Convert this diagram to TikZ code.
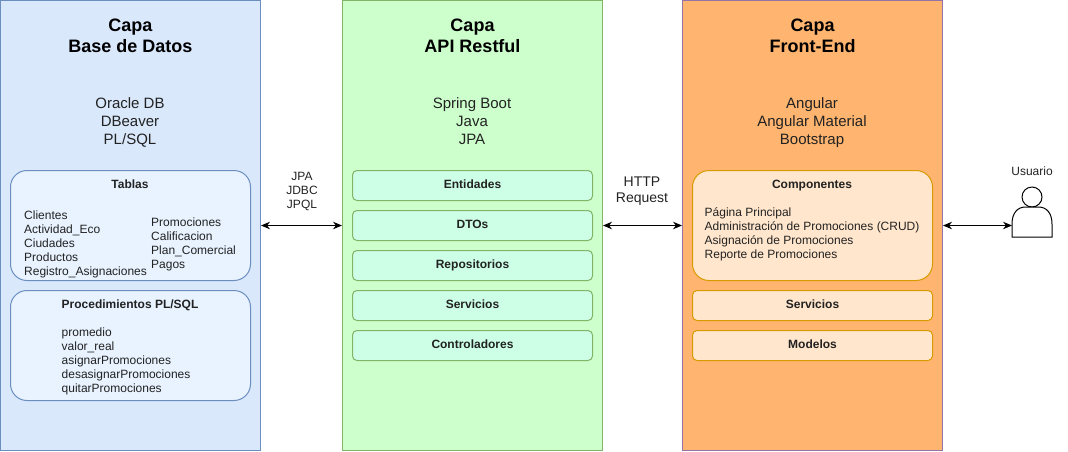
\documentclass[tikz,border=0pt]{standalone}
\usepackage{fontspec}
\setmainfont{Liberation Sans}
\usetikzlibrary{arrows.meta,calc}
\definecolor{blueF}{HTML}{DAE8FC}\definecolor{blueD}{HTML}{6C8EBF}
\definecolor{blueL}{HTML}{E8F3FF}
\definecolor{greenF}{HTML}{CCFFCC}\definecolor{greenD}{HTML}{82B366}
\definecolor{greenL}{HTML}{CCFFE6}
\definecolor{orangeF}{HTML}{FFB570}\definecolor{purpleD}{HTML}{9673A6}
\definecolor{orangeL}{HTML}{FFE6CC}\definecolor{orangeD}{HTML}{D79B00}
\definecolor{txt}{HTML}{222222}
\tikzset{
  panel/.style={draw,line width=1pt,minimum width=260pt,minimum height=450pt,inner sep=0pt,anchor=north west},
  inner/.style={draw,line width=1pt,minimum width=240pt,inner sep=0pt,anchor=north west,rounded corners=#1},
  tall/.style={inner=16.5pt,minimum height=110pt},
  short/.style={inner=4.5pt,minimum height=30pt},
  title/.style={font=\fontsize{18}{21}\selectfont\bfseries,align=center,text=black,inner sep=0pt},
  tech/.style={font=\fontsize{15}{18}\selectfont,align=center,text=txt,inner sep=0pt},
  small/.style={font=\fontsize{12}{14}\selectfont,align=left,text=txt,inner sep=0pt},
  smallc/.style={font=\fontsize{12}{14}\selectfont,align=center,text=txt,inner sep=0pt},
  head/.style={font=\fontsize{12}{14}\selectfont\bfseries,text=txt,inner sep=0pt,anchor=base},
  link/.style={line width=1pt,{Stealth[length=9pt,width=7.5pt]}-{Stealth[length=9pt,width=7.5pt]}},
}
\begin{document}
\begin{tikzpicture}[x=1pt,y=-1pt]
\useasboundingbox (0,0) rectangle (1068,451);
% panels
\node[panel,fill=blueF,draw=blueD] (db) at (0,0) {};
\node[panel,fill=greenF,draw=greenD] (api) at (342,0) {};
\node[panel,fill=orangeF,draw=purpleD] (front) at (682,0) {};
% titles
\node[title] (t1) at (130.5,35.5) {Capa\\Base de Datos};
\node[title] (t2) at (472.5,35.5) {Capa\\API Restful};
\node[title] (t3) at (812.5,35.5) {Capa\\Front-End};
\node[tech] (s1) at (130,122.5) {Oracle DB\\DBeaver\\PL/SQL};
\node[tech] (s2) at (472,121) {Spring Boot\\Java\\JPA};
\node[tech] (s3) at (812,122.5) {Angular\\Angular Material\\Bootstrap};
% database boxes
\node[tall,fill=blueL,draw=blueD] (tablas) at (10,170) {};
\node[head] (tablasH) at (130,188) {Tablas};
\node[small,anchor=north west] (tablasA) at (24,210.5) {Clientes\\Actividad\_Eco\\Ciudades\\Productos\\Registro\_Asignaciones};
\node[small,anchor=north west] (tablasB) at (151,217.5) {Promociones\\Calificacion\\Plan\_Comercial\\Pagos};
\node[tall,fill=blueL,draw=blueD] (proc) at (10,290) {};
\node[head] (procH) at (130,308) {Procedimientos PL/SQL};
\node[small,anchor=north west] (procA) at (61.5,328) {promedio\\valor\_real\\asignarPromociones\\desasignarPromociones\\quitarPromociones};
% api boxes
\foreach \n/\y/\t in {ent/170/Entidades,dto/210/DTOs,rep/250/Repositorios,ser/290/Servicios,con/330/Controladores}{
  \node[short,fill=greenL,draw=greenD] (\n) at (352,\y) {};
  \node[head] at ($(\n.center)+(0,3)$) {\t};
}
% front boxes
\node[tall,fill=orangeL,draw=orangeD] (comp) at (692,170) {};
\node[head] (compH) at (812,188) {Componentes};
\node[small,anchor=north west] (compA) at (704.5,207) {Página Principal\\Administración de Promociones (CRUD)\\Asignación de Promociones\\Reporte de Promociones};
\node[short,fill=orangeL,draw=orangeD] (fser) at (692,290) {};
\node[head] at ($(fser.center)+(0,3)$) {Servicios};
\node[short,fill=orangeL,draw=orangeD] (fmod) at (692,330) {};
\node[head] at ($(fmod.center)+(0,3)$) {Modelos};
% user
\node[inner sep=0pt,minimum width=40pt,minimum height=50pt,anchor=north west] (user) at (1012,187) {};
\draw[line width=1pt,fill=white] (1032,197) circle[radius=10];
\draw[line width=1pt,fill=white] (1012,237) -- (1012,224) .. controls (1012,213) and (1017.5,207) .. (1025.5,207) -- (1038.5,207) .. controls (1046.5,207) and (1052,213) .. (1052,224) -- (1052,237) -- cycle;
\node[smallc] (userL) at (1032,171) {Usuario};
% connector labels
\node[smallc] (jpa) at (302,191) {JPA\\JDBC\\JPQL};
\node[smallc,font=\fontsize{14}{16.5}\selectfont] (http) at (642,191) {HTTP\\Request};
% connectors
\draw[link] (db) -- (api);
\draw[link] (api) -- (front);
\draw[link] (front) -- (front -| user.west);
\end{tikzpicture}
\end{document}
